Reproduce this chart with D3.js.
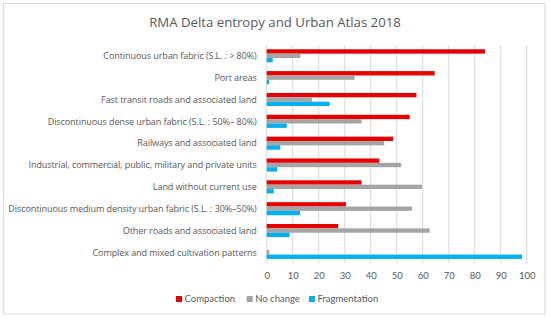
<!DOCTYPE html>
<html>
<head>
<meta charset="utf-8">
<script src="https://cdn.jsdelivr.net/npm/d3@7"></script>
<style>
  body { margin: 0; background: #fff; }
  svg { display: block; }
</style>
</head>
<body>
<div id="chart"></div>
<script>
const categories = [
  "Continuous urban fabric (S.L. : > 80%)",
  "Port areas",
  "Fast transit roads and associated land",
  "Discontinuous dense urban fabric (S.L. : 50%– 80%)",
  "Railways and associated land",
  "Industrial, commercial, public, military and private units",
  "Land without current use",
  "Discontinuous medium density urban fabric (S.L. : 30%–50%)",
  "Other roads and associated land",
  "Complex and mixed cultivation patterns"
];
const compaction    = [84, 64.6, 57.6, 55, 48.6, 43.3, 36.5, 30.5, 27.5, 0];
const noChange      = [13, 33.8, 17.4, 36.5, 45.2, 51.7, 59.7, 55.9, 62.7, 1];
const fragmentation = [2.3, 0.9, 24.2, 7.7, 5.2, 4, 2.7, 12.8, 8.8, 98.2];
const seriesNames = ["Compaction", "No change", "Fragmentation"];
const colors = ["#e60000", "#a5a5a5", "#00b0f0"];
const xTicks = [0, 10, 20, 30, 40, 50, 60, 70, 80, 90, 100];

const W = 550, H = 320;
const plot = { left: 266.7, right: 526.7, top: 44.9, bottom: 263.3 };

const svg = d3.select("#chart").append("svg")
  .attr("width", W)
  .attr("height", H);

// outer frame
svg.append("rect")
  .attr("x", 3.5).attr("y", 3.5)
  .attr("width", 541.5).attr("height", 310.5)
  .attr("fill", "#fff")
  .attr("stroke", "#d9d9d9");

svg.append("text")
  .attr("x", 275).attr("y", 27)
  .attr("text-anchor", "middle")
  .attr("font-family", "Open Sans, sans-serif")
  .attr("font-size", 13.2)
  .attr("fill", "#595959")
  .text("RMA Delta entropy and Urban Atlas 2018");

const x = d3.scaleLinear().domain([0, 100]).range([plot.left, plot.right]);
const y = d3.scaleBand().domain(categories).range([plot.top, plot.bottom]).paddingInner(0.4).paddingOuter(0.2);
const ySub = d3.scaleBand().domain(seriesNames).range([0, y.bandwidth()]);

// gridlines
svg.append("g")
  .selectAll("line")
  .data(xTicks)
  .join("line")
  .attr("x1", d => x(d)).attr("x2", d => x(d))
  .attr("y1", plot.top).attr("y2", plot.bottom)
  .attr("stroke", "#d9d9d9")
  .attr("stroke-width", 1);

const series = [compaction, noChange, fragmentation];

const groups = svg.append("g")
  .selectAll("g")
  .data(categories)
  .join("g")
  .attr("transform", d => `translate(0,${y(d)})`);

groups.selectAll("rect")
  .data((d, i) => series.map((s, k) => ({ name: seriesNames[k], value: s[i], k })))
  .join("rect")
  .attr("x", x(0))
  .attr("y", d => ySub(d.name))
  .attr("width", d => x(d.value) - x(0))
  .attr("height", ySub.bandwidth())
  .attr("fill", d => colors[d.k]);

// category labels
svg.append("g")
  .selectAll("text")
  .data(categories)
  .join("text")
  .attr("x", 256.7)
  .attr("y", d => y(d) + y.bandwidth() / 2)
  .attr("dy", "0.35em")
  .attr("text-anchor", "end")
  .attr("font-family", "Open Sans, sans-serif")
  .attr("font-size", 9.05)
  .attr("letter-spacing", -0.1)
  .attr("fill", "#595959")
  .text(d => d);

// x axis tick labels
const xAxis = svg.append("g")
  .attr("transform", `translate(0,${plot.bottom})`)
  .call(d3.axisBottom(x).tickValues(xTicks).tickSize(0).tickPadding(9));
xAxis.select(".domain").remove();
xAxis.selectAll("text")
  .attr("font-family", "Lato, sans-serif")
  .attr("font-size", 9.5)
  .attr("fill", "#595959");

// legend
const legendX = [176, 246.7, 309];
const legend = svg.append("g")
  .selectAll("g")
  .data(seriesNames)
  .join("g")
  .attr("transform", (d, i) => `translate(${legendX[i]},299)`);
legend.append("rect")
  .attr("x", 0).attr("y", -3)
  .attr("width", 6).attr("height", 6)
  .attr("fill", (d, i) => colors[i]);
legend.append("text")
  .attr("x", 8.5).attr("y", 0)
  .attr("dy", "0.35em")
  .attr("font-family", "Lato, sans-serif")
  .attr("font-size", 9.5)
  .attr("fill", "#595959")
  .text(d => d);
</script>
</body>
</html>
